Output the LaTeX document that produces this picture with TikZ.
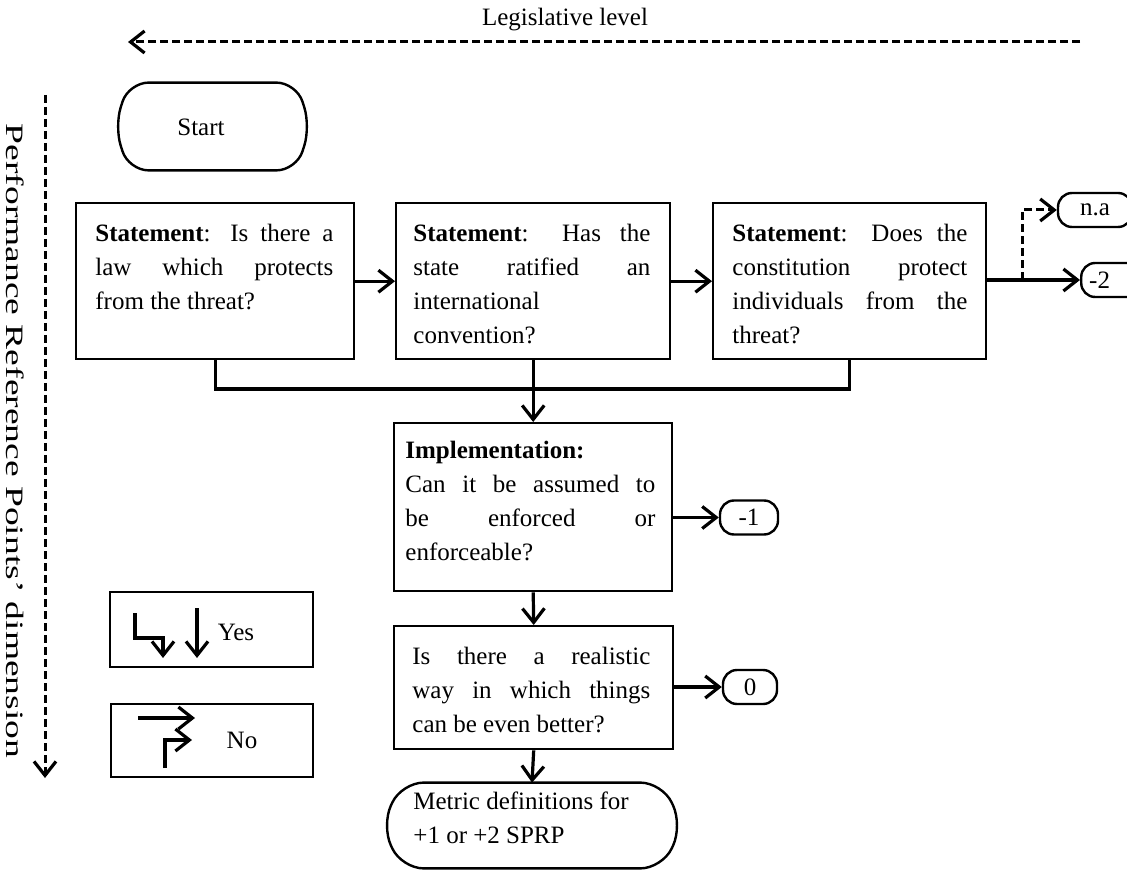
\documentclass[tikz,border=0pt]{standalone}
\usepackage{fontspec}
\setmainfont{Liberation Serif}
\usetikzlibrary{arrows.meta,calc}
\newcommand{\pilloutline}[3]{%
  \draw[line width=1.2pt, rounded corners=#3]
    ($(#1.north west)+(#2,0)$) -- ($(#1.north east)+(-#2,0)$) -- (#1.east)
    -- ($(#1.south east)+(-#2,0)$) -- ($(#1.south west)+(#2,0)$) -- (#1.west) -- cycle;}
\begin{document}
\begin{tikzpicture}[x=0.5pt,y=-0.5pt,
  every node/.style={font=\fontsize{12.5}{17}\selectfont},
  box/.style={draw, line width=1.2pt, rectangle, inner sep=0pt, anchor=north west},
  txt/.style={inner sep=0pt, anchor=north west, align=justify},
  frame/.style={draw=none, rectangle, inner sep=0pt},
  smallpill/.style={draw, line width=1.2pt, rounded corners=7pt, inner sep=0pt, minimum height=17pt},
  tipbarb/.tip={Straight Barb[length=7pt,width=11pt,line width=1.6pt]},
  arr/.style={line width=1.6pt, -tipbarb},
  plain/.style={line width=1.6pt},
  dasharr/.style={line width=1.5pt, dash pattern=on 4pt off 2pt, -tipbarb}]
\useasboundingbox (0,0) rectangle (1127,870);

% axis labels
\node (leg) at (565,20) {Legislative level};
\coordinate (legR) at (1080,42);
\coordinate (legL) at (128,42);
\draw[dasharr] (legR) -- (legL);

\node[rotate=-90] (prp) at (15,441) {\scalebox{1.5}[1]{Performance Reference Points’ dimension}};
\coordinate (prpT) at (45,95);
\coordinate (prpB) at (45,778);
\draw[dasharr] (prpT) -- (prpB);

% start
\node[frame, minimum width=97.5pt, minimum height=43.5pt] (start) at (212.5,126.5) {};
\pilloutline{start}{14}{10pt}
\node (starttxt) at (201,127) {Start};

% statement boxes
\node[box, minimum width=139pt, minimum height=78pt] (b1) at (75,202) {};
\node[txt, text width=119pt] (t1) at (95,224)
  {\textbf{Statement}: Is there a\linebreak law which protects\linebreak from the threat?};
\node[box, minimum width=137pt, minimum height=78pt] (b2) at (395,202) {};
\node[txt, text width=118.5pt] (t2) at (413,224)
  {\textbf{Statement}: Has the\linebreak state ratified an\linebreak international\newline convention?};
\node[box, minimum width=136.5pt, minimum height=78pt] (b3) at (712,202) {};
\node[txt, text width=117.5pt] (t3) at (732,224)
  {\textbf{Statement}: Does the\linebreak constitution protect\linebreak individuals from the\linebreak threat?};

% outcome pills top right
\node[smallpill, minimum width=37pt] (na) at (1095,210) {n.a};
\node[smallpill, anchor=west, inner xsep=4pt, text width=22pt, align=left] (m2) at (1080,280) {-2};

\coordinate (j) at (1022,280);
\draw[arr] (b1.east) -- (b2.west);
\draw[arr] (b2.east) -- (b3.west);
\draw[arr] (m2.west -| b3.east) -- (m2.west);
\draw[dasharr] (j) |- (na.west);

% bus
\coordinate (bus) at (532,389);
\draw[plain] (b1.south) -- (b1.south |- bus) -- (b3.south |- bus) -- (b3.south);

% implementation
\node[box, minimum width=139pt, minimum height=84pt] (impl) at (393,422) {};
\node[txt, text width=125pt] (ti) at (405,441)
  {\textbf{Implementation:}\newline Can it be assumed to\linebreak be enforced or\linebreak enforceable?};
\draw[arr] (b2.south) -- (impl.north);
\node[smallpill, minimum width=29pt] (m1) at (749,517.5) {-1};
\draw[arr] (m1.west -| impl.east) -- (m1.west);

% realistic
\node[box, minimum width=139.5pt, minimum height=61.5pt] (real) at (393,625) {};
\node[txt, text width=119pt] (tr) at (412,647)
  {Is there a realistic\linebreak way in which things\linebreak can be even better?};
\draw[arr] (impl.south) -- (real.north);
\node[smallpill, minimum width=27pt] (m0) at (750,687) {0};
\draw[arr] (m0.west -| real.east) -- (m0.west);

% metric
\node[frame, minimum width=150pt, minimum height=42.5pt] (metric) at (532,825.5) {};
\pilloutline{metric}{20}{11pt}
\node[txt, align=left] (tm) at (413,791) {Metric definitions for\\+1 or +2 SPRP};
\draw[arr] (real.south) -- (metric.north);

% legend
\node[box, minimum width=101.5pt, minimum height=37.5pt] (yes) at (109,591) {};
\draw[arr] (135,613) -- (135,638) -- (163,638) -- (163,658);
\draw[arr] (197,608) -- (197,658);
\node (yestxt) at (236,632) {Yes};

\node[box, minimum width=101pt, minimum height=36.5pt] (no) at (110,703) {};
\draw[arr] (138,718) -- (195,718);
\draw[arr] (165,768) -- (165,740) -- (192,740);
\node (notxt) at (242,740) {No};
\end{tikzpicture}
\end{document}
